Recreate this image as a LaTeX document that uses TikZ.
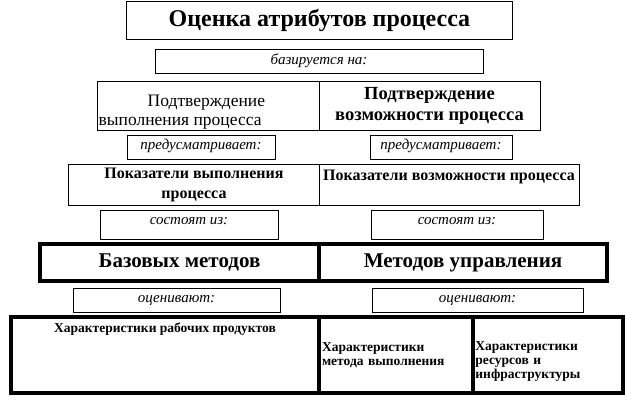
\documentclass[tikz,border=0pt]{standalone}
\usepackage{fontspec}
\setmainfont{Liberation Serif}
\usetikzlibrary{positioning}
\tikzset{
  cell/.style={draw, line width=1bp, inner sep=1bp, align=center},
  bigcell/.style={draw, line width=3.5bp, inner sep=1bp, align=center},
  verb/.style={cell, minimum height=24bp, font=\itshape\fontsize{15bp}{17bp}\selectfont},
  hdr/.style={font=\bfseries\fontsize{16bp}{20bp}\selectfont},
  small/.style={font=\bfseries\fontsize{13.5bp}{14bp}\selectfont},
}
\begin{document}
\begin{tikzpicture}[x=1bp, y=-1bp]
  \useasboundingbox (0,0) rectangle (625,409);
  % Title
  \node[cell, minimum width=385bp, minimum height=38bp,
        font=\bfseries\fontsize{24bp}{26bp}\selectfont] (title) at (319.5,20) {Оценка атрибутов процесса};
  \node[verb, minimum width=328bp] (base) at (319,61) {базируется на:};
  % Confirmation row
  \node[cell, minimum width=222bp, minimum height=49bp,
        label={[align=left, anchor=west, inner sep=0pt, xshift=2bp, yshift=-7bp,
                font=\fontsize{17.5bp}{19bp}\selectfont]west:{\hspace*{49bp}Подтверждение\\выполнения процесса}}] (confL) at (208,105.5) {};
  \node[cell, minimum width=221bp, minimum height=49bp,
        font=\bfseries\fontsize{18.5bp}{21bp}\selectfont] (confR) at (429.5,105.5) {Подтверждение\\возможности процесса};
  \node[verb, minimum width=148bp, text depth=6bp] (provL) at (201,147) {предусматривает:};
  \node[verb, minimum width=142bp, text depth=6bp] (provR) at (441,147) {предусматривает:};
  % Indicators row
  \node[cell, hdr, minimum width=250bp, minimum height=41bp] (indL) at (194,184.5) {Показатели выполнения\\процесса};
  \node[cell, minimum width=260bp, minimum height=41bp,
        label={[hdr, anchor=north, yshift=-3bp]north:Показатели возможности процесса}] (indR) at (449,184.5) {};
  \node[verb, minimum width=178bp, minimum height=29bp, text depth=8bp] (consL) at (189,224.5) {состоят из:};
  \node[verb, minimum width=172bp, minimum height=29bp, text depth=8bp] (consR) at (457,224.5) {состоят из:};
  % Methods row
  \node[bigcell, minimum width=279bp, minimum height=37bp,
        font=\bfseries\fontsize{21bp}{23bp}\selectfont] (methL) at (179.5,262.5) {Базовых методов};
  \node[bigcell, minimum width=288bp, minimum height=37bp,
        font=\bfseries\fontsize{21bp}{23bp}\selectfont] (methR) at (463,262.5) {Методов управления};
  \node[verb, minimum width=207bp] (evalL) at (176.5,300) {оценивают:};
  \node[verb, minimum width=211bp] (evalR) at (477.5,300) {оценивают:};
  % Characteristics row
  \node[bigcell, minimum width=308bp, minimum height=76bp,
        label={[small, anchor=north, yshift=-4bp]north:Характеристики рабочих продуктов}] (prodL) at (165,355) {};
  \node[bigcell, small, minimum width=154bp, minimum height=76bp, align=left,
        text width=148bp] (prodM) at (396,355) {Характеристики\\метода выполнения};
  \node[bigcell, minimum width=150bp, minimum height=76bp,
        label={[small, align=left, anchor=west, inner sep=0pt, xshift=4bp, yshift=-7bp,
                text width=144bp]west:{Характеристики\\ресурсов и\\инфраструктуры}}] (prodR) at (548,355) {};
\end{tikzpicture}
\end{document}
